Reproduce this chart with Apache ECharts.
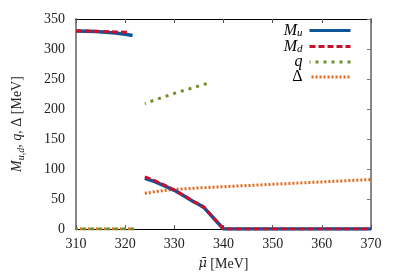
<!DOCTYPE html>
<html><head><meta charset="utf-8">
<script src="https://cdn.jsdelivr.net/npm/echarts@6/dist/echarts.min.js"></script>
<style>html,body{margin:0;padding:0;background:#fff}#c{width:399px;height:279px}</style>
</head><body><div id="c"></div>
<script>
// ---- data ----
const xHigh = [310, 312, 314, 316, 318, 320, 321.5];
const muHigh = [330, 329.5, 329, 328, 326.5, 324.5, 322.5];
const xHighD = [310, 312, 314, 316, 318, 320, 321];
const mdHigh = [330, 329.8, 329.5, 329, 328.5, 328, 327.5];
const xLow = [324, 326, 328, 330, 332, 334, 335, 336, 338, 340, 345, 350, 355, 360, 365, 370];
const muLow = [84.5, 79, 72, 64.5, 55, 45, 41, 36, 18, 0, 0, 0, 0, 0, 0, 0];
const mdLow = [87, 80.5, 73, 65, 55.5, 45.5, 41.5, 36.5, 18.5, 0, 0, 0, 0, 0, 0, 0];
const xZero = [310, 314, 318, 322];
const zeroVals = [0, 0, 0, 0];
const xQ = [324, 326, 328, 330, 332, 334, 336, 337];
const qVals = [209, 215, 220.5, 226, 231, 236, 241, 243];
const xDelta = [324, 326, 328, 330, 335, 340, 345, 350, 355, 360, 365, 370];
const deltaVals = [59.5, 62, 64, 66, 68.5, 70.5, 72.5, 74.5, 76.5, 78.5, 80.5, 82.5];

function pairs(xs, ys){ return xs.map((x,i)=>[x, ys[i]]); }
function joinSeg(a, b){ return a.concat([[null,null]], b); }

const FONT = '"Liberation Serif", "DejaVu Serif", serif';
const colors = {mu:'#0e5596', md:'#c8102e', q:'#6f9028', d:'#e06a1c'};

const chart = echarts.init(document.getElementById('c'), null, {renderer:'canvas'});
const rich = {
  i:{fontFamily:FONT, fontStyle:'italic', fontSize:16, color:'#000', lineHeight:12},
  s:{fontFamily:FONT, fontStyle:'italic', fontSize:11, color:'#000', lineHeight:8, padding:[6,0,0,0]},
  n:{fontFamily:FONT, fontSize:16, color:'#000', lineHeight:12}
};
const names = {
  'Mu':'{i|M}{s|u}',
  'Md':'{i|M}{s|d}',
  'q':'{i|q}',
  'D':'{n|Δ}'
};
chart.setOption({
  animation:false,
  backgroundColor:'#fff',
  grid:{left:76, right:28, top:19, bottom:50, containLabel:false},
  legend:{
    right:42, top:17, orient:'vertical', align:'right',
    itemWidth:41, itemHeight:10, itemGap:-1,
    data:['Mu','Md','q','D'],
    formatter:n=>names[n],
    itemStyle:{color:'transparent', borderWidth:0, opacity:0},
    lineStyle:{width:3},
    textStyle:{rich:rich, fontFamily:FONT, fontSize:16, color:'#000', padding:[0,2,0,0]}
  },
  xAxis:[{
    type:'value', min:310, max:370, interval:10, position:'bottom',
    name:'{n|μ̄} {r|[MeV]}', nameLocation:'middle', nameGap:28,
    nameTextStyle:{rich:{n:{fontFamily:'"DejaVu Serif", serif', fontStyle:'italic', fontSize:13, color:'#222'}, r:{fontFamily:FONT, fontSize:14, color:'#222'}}},
    axisLine:{show:true, onZero:false, lineStyle:{color:'#000', width:1}},
    axisTick:{show:true, inside:true, length:4, lineStyle:{color:'#555'}},
    axisLabel:{fontFamily:FONT, fontSize:14, color:'#222', margin:8},
    splitLine:{show:false}
  },{
    type:'value', min:310, max:370, interval:10, position:'top',
    axisLine:{show:true, onZero:false, lineStyle:{color:'#000', width:1}},
    axisTick:{show:true, inside:true, length:4, lineStyle:{color:'#555'}},
    axisLabel:{show:false}, splitLine:{show:false}
  }],
  yAxis:[{
    type:'value', min:0, max:350, interval:50, position:'left',
    name:'{i|M}{s|u,d}{n|, }{i|q}{n|, Δ [MeV]}', nameLocation:'middle', nameGap:50, nameRotate:90,
    nameTextStyle:{rich:{
      i:{fontFamily:FONT, fontStyle:'italic', fontSize:14, color:'#222'},
      s:{fontFamily:FONT, fontStyle:'italic', fontSize:10, color:'#222', padding:[7,0,0,0]},
      n:{fontFamily:FONT, fontSize:14, color:'#222'}}},
    axisLine:{show:true, onZero:false, lineStyle:{color:'#888', width:2}},
    axisTick:{show:false},
    axisLabel:{fontFamily:FONT, fontSize:14, color:'#222', margin:11},
    splitLine:{show:false}
  },{
    type:'value', min:0, max:350, interval:50, position:'right',
    axisLine:{show:true, onZero:false, lineStyle:{color:'#888', width:2}},
    axisTick:{show:true, inside:true, length:4, lineStyle:{color:'#777'}},
    axisLabel:{show:false}, splitLine:{show:false}
  }],
  series:[
    {name:'D', type:'line', showSymbol:false, symbol:'none', connectNulls:false,
     data:joinSeg(pairs(xZero, zeroVals), pairs(xDelta, deltaVals)),
     lineStyle:{color:colors.d, width:3, type:[2,2]}, itemStyle:{color:colors.d}, z:2},
    {name:'q', type:'line', showSymbol:false, symbol:'none', connectNulls:false,
     data:joinSeg(pairs(xZero, zeroVals), pairs(xQ, qVals)),
     lineStyle:{color:colors.q, width:3, type:[3,5], dashOffset:2}, itemStyle:{color:colors.q}, z:3},
    {name:'Mu', type:'line', showSymbol:false, symbol:'none', connectNulls:false,
     data:joinSeg(pairs(xHigh, muHigh), pairs(xLow, muLow)),
     lineStyle:{color:colors.mu, width:3.5}, itemStyle:{color:colors.mu}, z:4},
    {name:'Md', type:'line', showSymbol:false, symbol:'none', connectNulls:false,
     data:joinSeg(pairs(xHighD, mdHigh), pairs(xLow, mdLow)),
     lineStyle:{color:colors.md, width:3, type:[6,3]}, itemStyle:{color:colors.md}, z:5}
  ]
});
</script></body></html>
